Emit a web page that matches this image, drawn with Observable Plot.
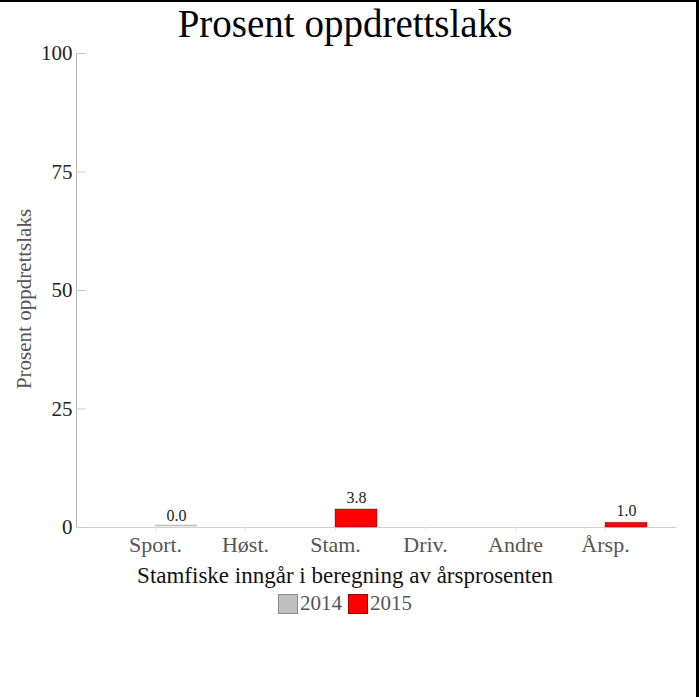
<!DOCTYPE html>
<html><head><meta charset="utf-8">
<script src="https://cdn.jsdelivr.net/npm/d3@7"></script>
<script src="https://cdn.jsdelivr.net/npm/@observablehq/plot@0.6"></script>
<style>
html,body{margin:0;padding:0;background:#fff;}
#wrap{position:relative;width:699px;height:697px;overflow:hidden;font-family:"Liberation Serif","Times New Roman",serif;background:#fff;}
#chart{position:absolute;left:0;top:0;}
.title{position:absolute;left:0;width:690px;top:4px;text-align:center;font-size:39px;line-height:39px;color:#000;white-space:nowrap;}
.xtitle{position:absolute;left:0;width:690px;top:564px;text-align:center;font-size:23px;line-height:23px;color:#111;white-space:nowrap;}
.ylabel{position:absolute;left:24px;top:299px;transform:translate(-50%,-50%) rotate(-90deg);font-size:21px;line-height:21px;color:#555;white-space:nowrap;}
.legend{position:absolute;left:0;width:690px;top:593px;display:flex;justify-content:center;align-items:center;font-size:21px;line-height:21px;color:#555;}
.legend .item{display:flex;align-items:center;margin:0 3px;}
.legend .sw{width:20px;height:20px;box-sizing:border-box;border:1px solid;margin-right:2px;}
.bt{position:absolute;left:0;top:0;width:699px;height:2px;background:#000;}
.br{position:absolute;right:0;top:0;width:3px;height:697px;background:#000;}
</style>
</head>
<body>
<div id="wrap">
  <div id="chart"></div>
  <div class="title">Prosent oppdrettslaks</div>
  <div class="ylabel">Prosent oppdrettslaks</div>
  <div class="xtitle">Stamfiske inngår i beregning av årsprosenten</div>
  <div class="legend" id="legend"></div>
  <div class="bt"></div><div class="br"></div>
</div>
<script>
const categories = ["Sport.", "Høst.", "Stam.", "Driv.", "Andre", "Årsp."];
const years = ["2014", "2015"];
const values2014 = [null, null, null, null, null, null];
const values2015 = [0.0, null, 3.8, null, null, 1.0];
const yTicks = [0, 25, 50, 75, 100];
const fills = ["#c0c0c0", "#ff0000"];
const borders = ["#8c8c8c", "#a80000"];

const rows = [];
categories.forEach((c, i) => {
  if (values2014[i] != null) rows.push({category: c, year: "2014", value: values2014[i]});
  if (values2015[i] != null) rows.push({category: c, year: "2015", value: values2015[i]});
});
// zero-valued entries are drawn as a flat light gray line
const zeroRows = rows.filter(d => d.value === 0);
const posRows = rows.filter(d => d.value > 0);

const chart = Plot.plot({
  width: 699,
  height: 697,
  marginLeft: 76,
  marginRight: 23,
  marginTop: 53,
  marginBottom: 170,
  style: {fontFamily: "'Liberation Serif', 'Times New Roman', serif", background: "transparent"},
  x: {type: "band", domain: categories, paddingInner: 0, paddingOuter: 0.33, align: 0.57, axis: null},
  y: {domain: [0, 100], axis: null},
  color: {domain: years, range: fills},
  marks: [
    Plot.ruleY([0], {stroke: "#d0d0d0"}),
    Plot.frame({anchor: "left", stroke: "#b4b4b4"}),
    Plot.axisY(yTicks, {tickSize: -10, stroke: "#cccccc", text: null, label: null}),
    Plot.axisY(yTicks, {tickSize: 0, tickPadding: 4, fontSize: 21, fill: "#222", label: null}),
    Plot.axisX({tickSize: 4, stroke: "#e4e4e4", tickPadding: 5, fontSize: 22, fill: "#555", label: null}),
    Plot.tickY(zeroRows, {x: "category", y: "value", stroke: "#bdbdbd", strokeWidth: 1.5, dy: -2, insetLeft: 45, insetRight: 3}),
    Plot.barY(posRows, {x: "category", y: "value", fill: "year", stroke: "#000", strokeOpacity: 0.3, insetLeft: 45, insetRight: 3}),
    Plot.text(rows, {x: "category", y: "value", text: d => d.value.toFixed(1), dx: 21, dy: -12, fontSize: 16, fill: "#222"})
  ]
});
document.getElementById("chart").appendChild(chart);

const legend = document.getElementById("legend");
years.forEach((y, i) => {
  const item = document.createElement("div");
  item.className = "item";
  const sw = document.createElement("div");
  sw.className = "sw";
  sw.style.background = fills[i];
  sw.style.borderColor = borders[i];
  const t = document.createElement("span");
  t.textContent = y;
  item.appendChild(sw); item.appendChild(t);
  legend.appendChild(item);
});
</script>
</body></html>
